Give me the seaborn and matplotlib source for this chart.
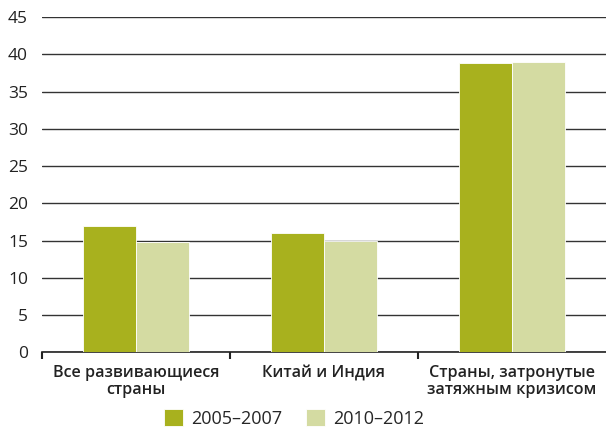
import matplotlib
matplotlib.use("Agg")
import matplotlib.pyplot as plt
import seaborn as sns
import pandas as pd
from matplotlib.ticker import FixedLocator

categories = ["Все развивающиеся\nстраны", "Китай и Индия", "Страны, затронутые\nзатяжным кризисом"]
series_names = ["2005–2007", "2010–2012"]
values_2005 = [17.0, 16.0, 38.9]
values_2010 = [14.8, 14.9, 39.0]
yticks = [0, 5, 10, 15, 20, 25, 30, 35, 40, 45]
colors = ["#a8b11e", "#d4dba2"]

df = pd.DataFrame({
    "cat": categories * 2,
    "period": [series_names[0]] * 3 + [series_names[1]] * 3,
    "val": values_2005 + values_2010,
})

sns.set_theme(style="white")
plt.rcParams['font.family'] = ['Open Sans', 'DejaVu Sans']

fig = plt.figure(figsize=(6.06, 4.30), dpi=100)
ax = fig.add_axes([0.069, 0.181, 0.931, 0.779])

sns.barplot(data=df, x="cat", y="val", hue="period", palette=colors,
            width=0.565, saturation=1, ax=ax, zorder=3, legend=True,
            linewidth=0.6, edgecolor="white")

ax.set_ylim(0, 45)
ax.set_xlim(-0.5, 2.5)
ax.set_yticks(yticks)
ax.set_yticklabels([str(t) for t in yticks], fontsize=12.5, color="#222222")
ax.yaxis.grid(True, color="#333333", linewidth=1.0, zorder=0)
ax.set_axisbelow(True)
for s in ["left", "right", "top"]:
    ax.spines[s].set_visible(False)
ax.spines["bottom"].set_color("#222222")
ax.spines["bottom"].set_linewidth(1.2)
ax.tick_params(axis="y", length=0, pad=10)
ax.set_xticks([0, 1, 2])
ax.set_xticklabels(categories, fontsize=11.6, fontweight="semibold", color="#222222", linespacing=1.15)
ax.tick_params(axis="x", length=0, pad=9)
ax.xaxis.set_minor_locator(FixedLocator([-0.5, 0.5, 1.5]))
ax.tick_params(axis="x", which="minor", length=5, width=1.5, color="#222222", direction="out", bottom=True)
ax.set_xlabel("")
ax.set_ylabel("")

handles, labels = ax.get_legend_handles_labels()
ax.legend_.remove()
fig.legend(handles, labels, loc="lower center", bbox_to_anchor=(0.485, -0.024), ncol=2,
           frameon=False, fontsize=13, handlelength=1.05, handleheight=1.05,
           handletextpad=0.45, columnspacing=1.3, borderaxespad=0.3)

fig.savefig("out.png", dpi=100)
